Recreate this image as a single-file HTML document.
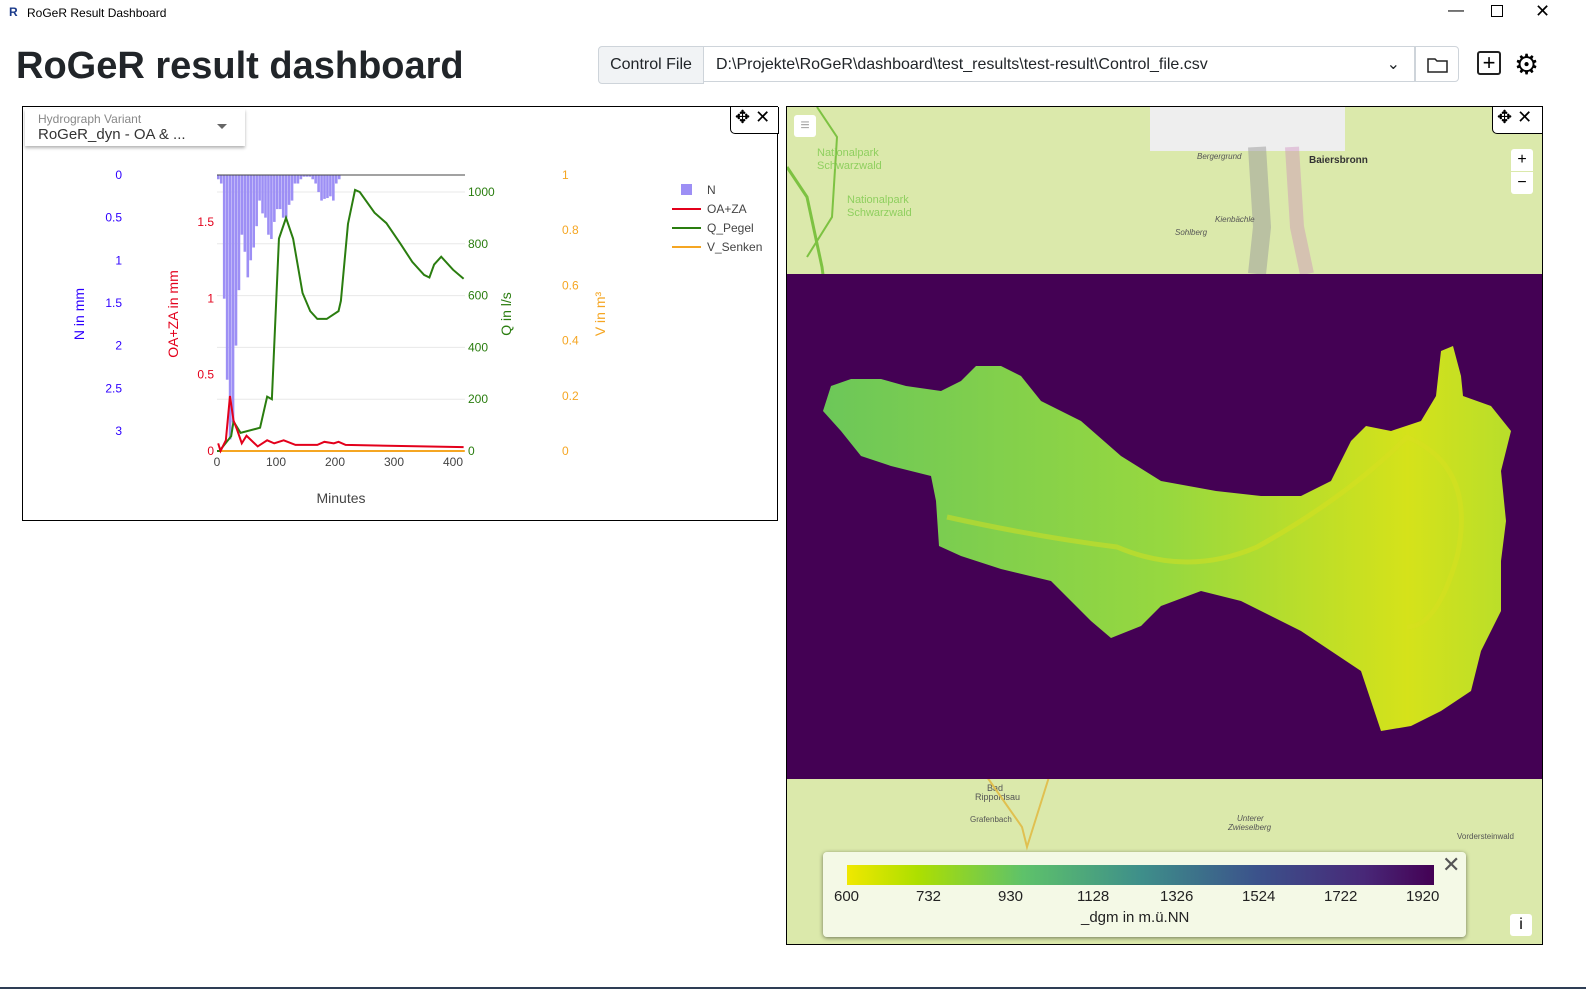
<!DOCTYPE html>
<html><head><meta charset="utf-8"><style>
body{margin:0;width:1586px;height:1001px;background:#fff;font-family:"Liberation Sans",sans-serif;position:relative;overflow:hidden}
.abs{position:absolute}
</style></head><body>
<div class="abs" style="left:0;top:0;width:1586px;height:26px;font-size:12px">
<span class="abs" style="left:9px;top:5px;color:#1a3a8a;font-weight:bold">R</span>
<span class="abs" style="left:27px;top:6px">RoGeR Result Dashboard</span>
<span class="abs" style="left:1448px;top:2px;font-size:16px">&#8212;</span>
<span class="abs" style="left:1491px;top:5px;width:10px;height:10px;border:1px solid #000"></span>
<span class="abs" style="left:1535px;top:1px;font-size:18px">&#10005;</span>
</div>
<div class="abs" style="left:16px;top:45px;font-size:38px;font-weight:bold;color:#212529">RoGeR result dashboard</div>
<div class="abs" style="left:598px;top:46px;width:104px;height:36px;border:1px solid #ced4da;background:#f1f3f5;border-radius:4px 0 0 4px;font-size:16px;line-height:36px;text-align:center;color:#212529">Control File</div>
<div class="abs" style="left:703px;top:46px;width:712px;height:36px;border:1px solid #ced4da;font-size:16px;line-height:36px;padding-left:12px;box-sizing:border-box;color:#212529">D:\Projekte\RoGeR\dashboard\test_results\test-result\Control_file.csv<span class="abs" style="right:14px;top:0">&#8964;</span></div>
<div class="abs" style="left:1415px;top:46px;width:44px;height:36px;border:1px solid #ced4da;border-radius:0 4px 4px 0;box-sizing:border-box">
<svg width="44" height="36"><path d="M12 12h7l2 2h10v11H12z" fill="none" stroke="#222" stroke-width="1.5"/></svg></div>
<div class="abs" style="left:1477px;top:51px;width:20px;height:20px;border:2px solid #222;border-radius:3px;font-size:22px;line-height:19px;text-align:center">+</div>
<div class="abs" style="left:1514px;top:48px;font-size:28px">&#9881;</div>

<div class="abs" style="left:22px;top:106px;width:756px;height:415px;border:1px solid #000;box-sizing:border-box"></div>
<div class="abs" style="left:25px;top:109px;width:220px;height:37px;box-shadow:0 2px 3px rgba(0,0,0,.3);background:#fff">
<div class="abs" style="left:13px;top:3px;font-size:12px;color:#888">Hydrograph Variant</div>
<div class="abs" style="left:13px;top:17px;font-size:15px;color:#333">RoGeR_dyn - OA &amp; ...</div>
<div class="abs" style="left:192px;top:15px;border:5px solid transparent;border-top-color:#666"></div></div>
<div class="abs" style="left:730px;top:107px;width:47px;height:26px;border:1px solid #000;border-top:none;border-radius:0 0 0 5px;font-size:18px;background:#fff"><span style="margin-left:4px">&#10021;</span> &#10005;</div>

<svg class="abs" style="left:0;top:0" width="786" height="530" id="chart"></svg>

<div class="abs" style="left:786px;top:106px;width:757px;height:839px;border:1px solid #000;box-sizing:border-box;background:#dbe9ab;overflow:hidden">
<svg class="abs" style="left:0;top:0" width="757" height="839">
<path d="M0 60 L20 90 L35 160 L40 200 L30 280" stroke="#7dc242" stroke-width="3" fill="none"/>
<path d="M30 0 L50 30 L45 110 L20 150" stroke="#7dc242" stroke-width="2" fill="none"/>
<rect x="363" y="0" width="195" height="44" fill="#eee"/>
<path d="M470 40 L475 120 L470 167" stroke="#999" stroke-width="18" fill="none" opacity=".5"/>
<path d="M505 40 L510 120 L520 167" stroke="#c8b" stroke-width="14" fill="none" opacity=".4"/>
<text x="522" y="56" font-size="10" font-weight="bold" fill="#333">Baiersbronn</text>
<text x="410" y="52" font-size="8" fill="#555" font-style="italic">Bergergrund</text>
<text x="428" y="115" font-size="8" fill="#555" font-style="italic">Kienbächle</text>
<text x="388" y="128" font-size="8" fill="#555" font-style="italic">Sohlberg</text>
<text x="30" y="49" font-size="11" fill="#8fcf5f">Nationalpark</text><text x="30" y="62" font-size="11" fill="#8fcf5f">Schwarzwald</text>
<text x="60" y="96" font-size="11" fill="#8fcf5f">Nationalpark</text><text x="60" y="109" font-size="11" fill="#8fcf5f">Schwarzwald</text>
<text x="200" y="684" font-size="9" fill="#555">Bad</text><text x="188" y="693" font-size="9" fill="#555">Rippoldsau</text>
<text x="183" y="715" font-size="8" fill="#555">Grafenbach</text>
<text x="450" y="714" font-size="8" fill="#555" font-style="italic">Unterer</text><text x="441" y="723" font-size="8" fill="#555" font-style="italic">Zwieselberg</text>
<text x="670" y="732" font-size="8" fill="#555">Vordersteinwald</text>
<path d="M200 670 L235 720 L240 740 L262 670" stroke="#e0c050" stroke-width="2" fill="none"/>
<rect x="0" y="167" width="757" height="505" fill="#440154"/>
<defs><linearGradient id="cg" x1="0" x2="1" y1="0" y2="0"><stop offset="0" stop-color="#6cc759"/><stop offset=".5" stop-color="#97d83f"/><stop offset=".85" stop-color="#d5e21a"/><stop offset="1" stop-color="#b8de2b"/></linearGradient></defs>
<polygon fill="url(#cg)" points="36,304 44,279 64,272 94,272 119,279 154,284 174,274 189,259 214,259 234,269 254,294 294,314 334,349 374,374 429,384 474,389 514,389 544,374 564,334 579,319 604,324 634,314 649,289 654,244 666,239 674,269 676,289 704,299 724,324 714,364 719,414 714,454 714,504 694,544 684,584 654,604 624,619 594,624 584,594 574,564 544,544 514,524 484,509 454,494 414,484 374,499 354,519 324,531 304,514 284,494 264,474 214,462 174,449 152,439 149,394 144,369 104,359 74,349 54,324"/>
<path d="M160 410 Q250 430 330 440 Q400 470 470 440 Q560 390 620 330 Q690 360 670 450 Q650 520 620 520" stroke="#d8e020" stroke-width="5" fill="none" opacity=".5"/>
</svg>
<div class="abs" style="left:7px;top:8px;width:22px;height:22px;background:#fff;border-radius:3px;color:#aaa;text-align:center;line-height:22px">&#8801;</div>
<div class="abs" style="left:724px;top:42px;width:22px;height:22px;background:#fff;border-radius:3px 3px 0 0;text-align:center;line-height:22px">+</div>
<div class="abs" style="left:724px;top:65px;width:22px;height:22px;background:#fff;border-radius:0 0 3px 3px;text-align:center;line-height:22px">&#8722;</div>
<div class="abs" style="left:705px;top:0;width:50px;height:26px;background:#fff;border:1px solid #000;border-top:none;border-right:none;border-radius:0 0 0 5px;font-size:18px"><span style="margin-left:4px">&#10021;</span> &#10005;</div>
<div class="abs" style="left:36px;top:745px;width:643px;height:85px;background:rgba(245,250,235,.93);border-radius:4px;box-shadow:0 1px 4px rgba(0,0,0,.5)">
<div class="abs" style="left:24px;top:13px;width:587px;height:20px;background:linear-gradient(90deg,#f0e800,#addf00 12%,#5ec26a 30%,#3e8f8a 50%,#3b528b 70%,#482878 88%,#440154)"></div>
<div class="abs" style="left:619px;top:0;font-size:22px;color:#555">&#10005;</div>
<div class="abs" style="left:0;top:36px;width:643px;font-size:15px;color:#222">
<span class="abs" style="left:11px">600</span><span class="abs" style="left:93px">732</span><span class="abs" style="left:175px">930</span><span class="abs" style="left:254px">1128</span><span class="abs" style="left:337px">1326</span><span class="abs" style="left:419px">1524</span><span class="abs" style="left:501px">1722</span><span class="abs" style="left:583px">1920</span></div>
<div class="abs" style="left:258px;top:57px;font-size:15px;color:#222">_dgm in m.ü.NN</div>
</div>
<div class="abs" style="left:723px;top:807px;width:22px;height:22px;background:#fff;border-radius:3px;text-align:center;line-height:22px">i</div>
</div>
<div class="abs" style="left:0;top:987px;width:1586px;height:2px;background:#2e3e55"></div>

<script>
const nMinutes=[0,5,10,15,20,25,30,35,40,45,50,55,60,65,70,75,80,85,90,95,100,105,110,115,120,125,130,135,140,145,150,155,160,165,170,175,180,185,190,195,200,205];
const nValues=[0.05,0.1,1.45,2.4,3.1,2.9,2.0,1.35,0.7,0.9,1.2,1.0,0.85,0.6,0.3,0.45,0.5,0.7,0.75,0.55,0.4,0.4,0.5,0.5,0.35,0.3,0.1,0.1,0.05,0.02,0.02,0.02,0.05,0.1,0.2,0.3,0.28,0.27,0.25,0.3,0.1,0.05];
const qMinutes=[0,4,24,28,40,65,73,85,93,105,117,129,145,158,170,186,206,210,222,234,242,267,287,311,331,351,360,368,380,400,418];
const qValues=[0,0,57,114,70,85,90,210,200,820,900,820,610,540,510,510,540,580,877,1008,1000,920,880,800,730,680,670,720,750,700,665];
const oaMinutes=[2,6,15,22,28,34,42,50,69,85,97,113,133,170,182,198,206,218,418];
const oaValues=[0.05,0,0.07,0.36,0.2,0.14,0.05,0.1,0.03,0.07,0.05,0.07,0.04,0.04,0.06,0.05,0.06,0.04,0.025];
const xTicks=[0,100,200,300,400];
const nTicks=[0,0.5,1,1.5,2,2.5,3];
const oaTicks=[0,0.5,1,1.5];
const qTicks=[0,200,400,600,800,1000];
const vTicks=[0,0.2,0.4,0.6,0.8,1];
const x=m=>217+m*0.59;
const yN=v=>175+v*85.3;
const yOA=v=>451-v*152.7;
const yQ=v=>451-v*0.259;
const yV=v=>451-v*276;
const svg=document.getElementById('chart');
const NS='http://www.w3.org/2000/svg';
function mk(tag,attrs,txt){const e=document.createElementNS(NS,tag);for(const k in attrs)e.setAttribute(k,attrs[k]);if(txt!==undefined)e.textContent=txt;svg.appendChild(e);return e;}
qTicks.forEach(t=>{if(t>0){const g=mk('line',{x1:217,x2:465,y1:yQ(t),y2:yQ(t),stroke:'#e8e8e8'});

}});
nMinutes.forEach((m,i)=>{const r=mk('rect',{x:x(m),y:175,width:2.6,height:nValues[i]*85.3,fill:'#9d8ff5'});

});
const topLine=mk('line',{x1:217,x2:465,y1:175,y2:175,stroke:'#444'});


function line(ms,vs,fy,col,name){const p=mk('polyline',{points:ms.map((m,i)=>x(m)+','+fy(vs[i])).join(' '),fill:'none',stroke:col,'stroke-width':2});

}
line([0,420],[0,0],yV,'#f5a623','v-senken-line');
line(qMinutes,qValues,yQ,'#2a7d0f','q-pegel-line');
line(oaMinutes,oaValues,yOA,'#e3001b','oa-za-line');
function txt(xx,yy,s,col,anchor,name,size){const t=mk('text',{x:xx,y:yy,fill:col,'font-size':size||12,'text-anchor':anchor},s);

return t;}
xTicks.forEach(t=>txt(x(t),466,t,'#444','middle','x-tick'));
nTicks.forEach(t=>txt(122,yN(t)+4,t,'#2e00ff','end','n-tick'));
oaTicks.forEach(t=>txt(214,yOA(t)+4,t,'#e3001b','end','oa-tick'));
qTicks.forEach(t=>txt(468,yQ(t)+4,t,'#2a7d0f','start','q-tick'));
vTicks.forEach(t=>txt(562,yV(t)+4,t,'#f5a623','start','v-tick'));
txt(341,503,'Minutes','#444','middle','x-axis-title',14);
const a1=txt(0,0,'N in mm','#2e00ff','middle','n-axis-title',14);a1.setAttribute('transform','translate(84,314) rotate(-90)');
const a2=txt(0,0,'OA+ZA in mm','#e3001b','middle','oa-axis-title',14);a2.setAttribute('transform','translate(178,314) rotate(-90)');
const a3=txt(0,0,'Q in l/s','#2a7d0f','middle','q-axis-title',14);a3.setAttribute('transform','translate(511,314) rotate(-90)');
const a4=txt(0,0,'V in m³','#f5a623','middle','v-axis-title',14);a4.setAttribute('transform','translate(605,314) rotate(-90)');
const lg=[['N','#9d8ff5',true],['OA+ZA','#e3001b'],['Q_Pegel','#2a7d0f'],['V_Senken','#f5a623']];
lg.forEach((l,i)=>{const yy=190+i*19;
if(l[2]){const r=mk('rect',{x:681,y:yy-6,width:11,height:11,fill:l[1]});}
else{const r=mk('line',{x1:672,x2:701,y1:yy,y2:yy,stroke:l[1],'stroke-width':2});}
const t=mk('text',{x:707,y:yy+4,'font-size':12,fill:'#444'},l[0]);

});
</script>
</body></html>
